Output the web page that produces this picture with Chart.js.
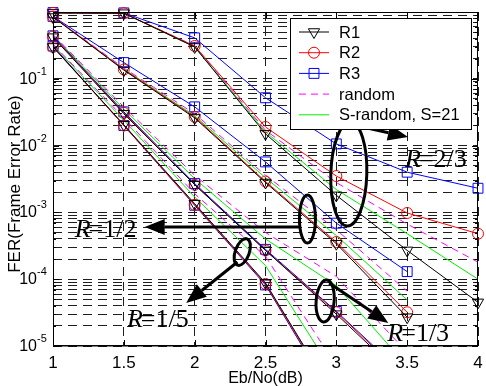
<!DOCTYPE html>
<html><head><meta charset="utf-8">
<script src="https://cdn.jsdelivr.net/npm/chart.js@4.4.1/dist/chart.umd.min.js"></script>
<style>html,body{margin:0;padding:0;background:#fff;}canvas{display:block;}</style>
</head><body>
<canvas id="c" width="486" height="386"></canvas>
<script>
// ---------- data ----------
const ebno = [1, 1.5, 2, 2.5, 3, 3.5, 4];
const xTicks = [1, 1.5, 2, 2.5, 3, 3.5, 4];
const xTickLabels = ['1', '1.5', '2', '2.5', '3', '3.5', '4'];
const yTickExps = [-5, -4, -3, -2, -1];
const legendNames = ['R1', 'R2', 'R3', 'random', 'S-random, S=21'];
const xTitle = 'Eb/No(dB)';
const yTitle = 'FER(Frame Error Rate)';

// R = 1/5
const rate15_R1 = [0.30, 0.0205, 0.00135, 8.8e-5, 1.6e-6];
const rate15_R2 = [0.30, 0.0200, 0.00130, 8.5e-5, 1.5e-6];
const rate15_R3 = [0.31, 0.0200, 0.00128, 8.2e-5, 1.4e-6];
const rate15_random = [0.33, 0.026, 0.0019, 2.2e-4, 5e-6];
const rate15_srandom = [0.32, 0.024, 0.0017, 1.6e-4, 3.4e-6];
// R = 1/3
const rate13_R1 = [0.42, 0.030, 0.0026, 2.7e-4, 3.0e-5, 3.0e-6];
const rate13_R2 = [0.43, 0.031, 0.0026, 2.7e-4, 3.2e-5, 3.2e-6];
const rate13_R3 = [0.44, 0.032, 0.0027, 2.8e-4, 3.3e-5, 3.4e-6];
const rate13_random = [0.46, 0.038, 0.0036, 5.0e-4, 1.1e-4, 8e-6];
const rate13_srandom = [0.45, 0.035, 0.0032, 4.0e-4, 8e-5, 5e-6];
// R = 1/2
const rate12_R1 = [0.84, 0.135, 0.026, 0.0028, 3.4e-4, 2.7e-5];
const rate12_R2 = [0.85, 0.138, 0.027, 0.0029, 3.6e-4, 3.2e-5];
const rate12_R3 = [0.86, 0.175, 0.038, 0.0057, 6.9e-4, 1.3e-4];
const rate12_random = [0.85, 0.145, 0.030, 0.0036, 5.5e-4, 6.6e-5];
const rate12_srandom = [0.85, 0.140, 0.028, 0.0033, 4.5e-4, 4.9e-5];
// R = 2/3
const rate23_R1 = [0.97, 0.96, 0.30, 0.015, 0.0018, 2.7e-4, 4.5e-5];
const rate23_R2 = [0.97, 0.96, 0.31, 0.019, 0.0035, 9.8e-4, 4.8e-4];
const rate23_R3 = [0.98, 0.97, 0.41, 0.052, 0.0106, 0.0040, 0.0023];
const rate23_random = [0.97, 0.96, 0.31, 0.017, 0.0028, 6.7e-4, 1.8e-4];
const rate23_srandom = [0.97, 0.96, 0.30, 0.016, 0.0022, 4.8e-4, 1.0e-4];

const rateLabels = ['R=1/5', 'R=1/3', 'R=1/2', 'R=2/3'];

// ---------- styles ----------
const STY = {
  R1: {borderColor: '#000000', pointStyle: 'triangle', pointRotation: 180, pointRadius: 6.5},
  R2: {borderColor: '#ff0000', pointStyle: 'circle', pointRotation: 0, pointRadius: 5.5},
  R3: {borderColor: '#0000ff', pointStyle: 'rect', pointRotation: 0, pointRadius: 7},
  random: {borderColor: '#ff00ff', borderDash: [7, 5], pointRadius: 0},
  srandom: {borderColor: '#00ee00', pointRadius: 0}
};

function ds(values, kind) {
  const s = STY[kind];
  return {
    data: values.map((v, i) => ({x: ebno[i], y: v})),
    borderColor: s.borderColor,
    borderWidth: 1,
    borderDash: s.borderDash || [],
    pointStyle: s.pointStyle || 'circle',
    pointRotation: s.pointRotation || 0,
    pointRadius: s.pointRadius,
    pointBorderColor: s.borderColor,
    pointBackgroundColor: 'rgba(0,0,0,0)',
    pointBorderWidth: 1,
    tension: 0,
    fill: false,
    clip: {left: 10, right: 10, top: 10, bottom: 0}
  };
}

const groups = [
  [rate15_R1, rate15_R2, rate15_R3, rate15_random, rate15_srandom],
  [rate13_R1, rate13_R2, rate13_R3, rate13_random, rate13_srandom],
  [rate12_R1, rate12_R2, rate12_R3, rate12_random, rate12_srandom],
  [rate23_R1, rate23_R2, rate23_R3, rate23_random, rate23_srandom]
];
const kinds = ['R1', 'R2', 'R3', 'random', 'srandom'];
const datasets = [];
groups.forEach(g => g.forEach((vals, k) => datasets.push(ds(vals, kinds[k]))));

// ---------- annotation layout (data coordinates; y given as log10) ----------
const ellipses = [
  {x: 3.088, ly: -2.425, rx: 18, ry: 52, rot: 0.03},
  {x: 2.796, ly: -3.099, rx: 8, ry: 24, rot: 0.0},
  {x: 2.336, ly: -3.593, rx: 7, ry: 14, rot: 0.35},
  {x: 2.921, ly: -4.326, rx: 9, ry: 21, rot: 0.08}
];
const arrows = [
  {x0: 3.060, ly0: -1.662, x1: 3.506, ly1: -1.871},
  {x0: 2.740, ly0: -3.219, x1: 1.647, ly1: -3.219},
  {x0: 2.302, ly0: -3.743, x1: 1.940, ly1: -4.356},
  {x0: 2.949, ly0: -4.057, x1: 3.367, ly1: -4.656}
];
const rateTextPos = [
  {x: 1.522, ly: -4.716},
  {x: 3.360, ly: -4.925},
  {x: 1.153, ly: -3.368},
  {x: 3.485, ly: -2.320}
];

const SANS = '"Liberation Sans", Arial, Helvetica, sans-serif';
const SERIF = '"Liberation Serif", "Times New Roman", serif';

function drawMarker(ctx, kind, x, y) {
  const s = STY[kind];
  if (!s.pointStyle) return;
  Chart.helpers.drawPoint(ctx, {pointStyle: s.pointStyle, rotation: s.pointRotation, radius: s.pointRadius, borderWidth: 1}, x, y);
}

const overlay = {
  id: 'overlay',
  afterDraw(chart) {
    const {ctx, chartArea: a} = chart;
    const xs = chart.scales.x, ys = chart.scales.y;
    const X = v => xs.getPixelForValue(v);
    const Y = lv => ys.getPixelForValue(Math.pow(10, lv));
    ctx.save();

    // frame
    ctx.strokeStyle = '#000'; ctx.lineWidth = 1; ctx.setLineDash([]);
    ctx.beginPath();
    ctx.rect(a.left + 0.5, a.top + 0.5, a.right - a.left - 1, a.bottom - a.top - 1);
    ctx.stroke();
    ctx.lineWidth = 1.5;
    ctx.beginPath();
    ctx.moveTo(a.left, a.bottom - 0.25); ctx.lineTo(a.right, a.bottom - 0.25);
    ctx.stroke();

    // ticks (inside)
    ctx.lineWidth = 1;
    ctx.beginPath();
    ys.ticks.forEach(t => {
      const py = Math.round(ys.getPixelForValue(t.value)) + 0.5;
      const m = Math.round(t.value / Math.pow(10, Math.floor(Math.log10(t.value) + 1e-9)));
      const len = m === 1 ? 6 : 3;
      ctx.moveTo(a.left, py); ctx.lineTo(a.left + len, py);
      ctx.moveTo(a.right, py); ctx.lineTo(a.right - len, py);
    });
    xTicks.forEach(v => {
      const px = Math.round(X(v)) + 0.5;
      ctx.moveTo(px, a.bottom); ctx.lineTo(px, a.bottom - 6);
      ctx.moveTo(px, a.top); ctx.lineTo(px, a.top + 6);
    });
    ctx.stroke();

    // tick labels
    ctx.fillStyle = '#000';
    ctx.textBaseline = 'alphabetic';
    ctx.font = '17px ' + SANS;
    ctx.textAlign = 'center';
    xTicks.forEach((v, i) => ctx.fillText(xTickLabels[i], X(v), a.bottom + 22));
    yTickExps.forEach(e => {
      const py = Y(e);
      ctx.font = '16px ' + SANS;
      ctx.textAlign = 'right';
      ctx.fillText('10', a.left - 16, py + 5);
      ctx.font = '11px ' + SANS;
      ctx.textAlign = 'left';
      ctx.fillText(String(e), a.left - 16, py - 4);
    });

    // axis titles
    ctx.font = '16px ' + SANS;
    ctx.textAlign = 'center';
    ctx.fillText(xTitle, (a.left + a.right) / 2, a.bottom + 37);
    ctx.save();
    ctx.translate(15, (a.top + a.bottom) / 2 + 5);
    ctx.rotate(-Math.PI / 2);
    ctx.font = '17px ' + SANS;
    ctx.textBaseline = 'middle';
    ctx.fillText(yTitle, 0, 0);
    ctx.restore();

    // annotations: ellipses
    ctx.strokeStyle = '#000'; ctx.lineWidth = 3;
    ellipses.forEach(el => {
      ctx.beginPath();
      ctx.ellipse(X(el.x), Y(el.ly), el.rx, el.ry, el.rot, 0, Math.PI * 2);
      ctx.stroke();
    });
    // arrows
    arrows.forEach(ar => {
      const x0 = X(ar.x0), y0 = Y(ar.ly0), x1 = X(ar.x1), y1 = Y(ar.ly1);
      const ang = Math.atan2(y1 - y0, x1 - x0);
      const hl = 20, hw = 8;
      const bx = x1 - hl * Math.cos(ang), by = y1 - hl * Math.sin(ang);
      ctx.lineWidth = 3;
      ctx.beginPath(); ctx.moveTo(x0, y0); ctx.lineTo(bx, by); ctx.stroke();
      ctx.beginPath();
      ctx.moveTo(x1, y1);
      ctx.lineTo(bx + hw * Math.sin(ang), by - hw * Math.cos(ang));
      ctx.lineTo(bx - hw * Math.sin(ang), by + hw * Math.cos(ang));
      ctx.closePath();
      ctx.fillStyle = '#000';
      ctx.fill();
    });
    // rate texts
    ctx.textAlign = 'left';
    ctx.textBaseline = 'alphabetic';
    rateLabels.forEach((lab, i) => {
      const p = rateTextPos[i];
      const px = X(p.x), py = Y(p.ly);
      ctx.font = 'italic 26px ' + SERIF;
      ctx.fillText(lab[0], px, py);
      const w = ctx.measureText(lab[0]).width;
      ctx.font = '26px ' + SERIF;
      ctx.fillText(lab.slice(1), px + w - 2, py);
    });

    // legend
    const lx0 = a.right - 188, ly0 = a.top + 6, lw = 181, lh = 111;
    ctx.fillStyle = '#fff';
    ctx.fillRect(lx0, ly0, lw, lh);
    ctx.strokeStyle = '#000'; ctx.lineWidth = 1;
    ctx.strokeRect(lx0 + 0.5, ly0 + 0.5, lw, lh);
    ctx.font = '16.5px ' + SANS;
    ctx.textBaseline = 'middle';
    legendNames.forEach((name, i) => {
      const kind = kinds[i];
      const s = STY[kind];
      const yy = ly0 + 14 + i * 20.7;
      ctx.strokeStyle = s.borderColor;
      ctx.fillStyle = 'rgba(0,0,0,0)';
      ctx.lineWidth = 1;
      ctx.setLineDash(s.borderDash || []);
      ctx.beginPath(); ctx.moveTo(lx0 + 9, yy); ctx.lineTo(lx0 + 39, yy); ctx.stroke();
      ctx.setLineDash([]);
      drawMarker(ctx, kind, lx0 + 24, yy);
      ctx.fillStyle = '#000';
      ctx.fillText(name, lx0 + 49, yy + 1);
    });
    ctx.restore();
  }
};

const yTickValues = [];
yTickExps.forEach(e => { for (let m = 1; m <= 9; m++) yTickValues.push(m * Math.pow(10, e)); });
yTickValues.push(1);

new Chart(document.getElementById('c').getContext('2d'), {
  type: 'line',
  data: {datasets},
  options: {
    responsive: false,
    animation: false,
    devicePixelRatio: 1,
    layout: {padding: {left: 53, right: 2, top: 12, bottom: 40}},
    plugins: {legend: {display: false}, tooltip: {enabled: false}},
    elements: {line: {tension: 0}},
    scales: {
      x: {
        type: 'linear', min: 1, max: 4,
        afterBuildTicks: s => { s.ticks = xTicks.map(v => ({value: v})); },
        ticks: {display: false},
        grid: {color: '#1e1e1e', lineWidth: 1, drawTicks: false},
        border: {display: false, dash: [9, 6]}
      },
      y: {
        type: 'logarithmic', min: 1e-5, max: 1,
        afterBuildTicks: s => { s.ticks = yTickValues.map(v => ({value: v})); },
        ticks: {display: false},
        grid: {color: '#1e1e1e', lineWidth: 1, drawTicks: false},
        border: {display: false, dash: [9, 6]}
      }
    }
  },
  plugins: [overlay]
});
</script>
</body></html>
